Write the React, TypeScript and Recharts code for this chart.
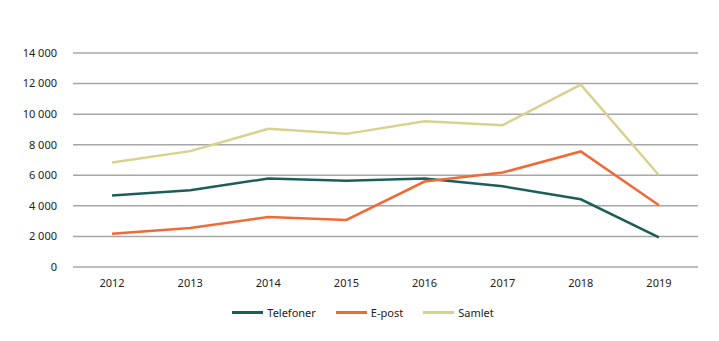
import * as React from "react";
import { CartesianGrid, Legend, Line, LineChart, XAxis, YAxis } from "recharts";

// Henvendelser per år – telefon, e-post og samlet
const years = ["2012", "2013", "2014", "2015", "2016", "2017", "2018", "2019"];
const telefoner = [4670, 5020, 5790, 5640, 5790, 5280, 4430, 1940];
const epost = [2180, 2550, 3270, 3080, 5590, 6180, 7560, 4040];
const samlet = [6830, 7580, 9040, 8710, 9540, 9280, 11930, 6000];
const yTicks = [0, 2000, 4000, 6000, 8000, 10000, 12000, 14000];

const series = [
  { key: "telefoner", name: "Telefoner", color: "#1d5e5a" },
  { key: "epost", name: "E-post", color: "#f06a37" },
  { key: "samlet", name: "Samlet", color: "#d9d28f" },
];

const data = years.map((y, i) => ({ year: y, telefoner: telefoner[i], epost: epost[i], samlet: samlet[i] }));

const font = "'Noto Sans', 'Open Sans', sans-serif";
const fmt = (v: number) => (v >= 1000 ? `${Math.floor(v / 1000)} ${String(v % 1000).padStart(3, "0")}` : String(v));

function LegendRow() {
  return (
    <div style={{ display: "flex", justifyContent: "center", gap: 20, paddingLeft: 28, fontFamily: font, fontSize: 11, color: "#222" }}>
      {series.map((s) => (
        <span key={s.key} style={{ display: "flex", alignItems: "center", gap: 4 }}>
          <span style={{ width: 31, height: 3, background: s.color, display: "inline-block" }} />
          {s.name}
        </span>
      ))}
    </div>
  );
}

export default function App() {
  return (
    <div style={{ position: "absolute", left: 0, top: 0, width: 719, height: 341, background: "#fff" }}>
      <LineChart width={719} height={341} data={data} margin={{ top: 53, right: 21, left: 0, bottom: 29 }}>
        <CartesianGrid vertical={false} stroke="#a6a6a6" strokeWidth={1.5} />
        <XAxis
          dataKey="year"
          scale="band"
          axisLine={false}
          tickLine={false}
          tickSize={0}
          tickMargin={12}
          height={30}
          tick={{ fill: "#222", fontSize: 11, fontFamily: font }}
        />
        <YAxis
          domain={[0, 14000]}
          ticks={yTicks}
          tickFormatter={fmt}
          axisLine={false}
          tickLine={false}
          tickSize={0}
          tickMargin={16}
          width={73}
          tick={{ fill: "#222", fontSize: 11, fontFamily: font }}
        />
        <Legend verticalAlign="bottom" wrapperStyle={{ top: 305 }} content={() => <LegendRow />} />
        {series.map((s) => (
          <Line
            key={s.key}
            dataKey={s.key}
            name={s.name}
            stroke={s.color}
            strokeWidth={2.5}
            dot={false}
            type="linear"
            isAnimationActive={false}
          />
        ))}
      </LineChart>
    </div>
  );
}
